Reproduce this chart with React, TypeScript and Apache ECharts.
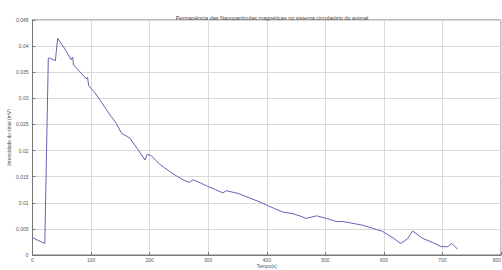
import React, { useEffect, useRef } from "react";
import * as echarts from "echarts";

const title = "Permanência das Nanopartículas magnéticas no sistema circulatório do animal";
const xName = "Tempo(s)";
const yName = "Intensidade do sinal (mV)";

const timeS = [
  0, 21, 27, 30, 39, 43, 55, 66, 68.5, 70, 80, 92, 94, 96, 105, 115, 130, 143, 152, 166,
  180, 192, 196, 203, 215, 223, 234, 245, 257, 268, 274, 287, 300, 313, 325, 331, 351, 371,
  385, 399, 413, 428, 445, 456, 467, 485, 502, 519, 530, 545, 564, 581, 598, 614, 629, 641,
  649, 666, 683, 698, 709, 716, 726,
];
const signal = [
  0.0033, 0.0022, 0.0377, 0.0377, 0.0372, 0.0415, 0.0395, 0.0374, 0.0379, 0.0364, 0.0352,
  0.0337, 0.034, 0.0324, 0.0313, 0.0297, 0.0272, 0.0252, 0.0233, 0.0224, 0.0202, 0.0182,
  0.0193, 0.019, 0.0176, 0.0169, 0.016, 0.0152, 0.0144, 0.0139, 0.0144, 0.0138, 0.0131,
  0.0125, 0.0119, 0.0123, 0.0118, 0.0109, 0.0103, 0.0096, 0.0089, 0.0082, 0.0079, 0.0075,
  0.007, 0.0075, 0.007, 0.0064, 0.0064, 0.0061, 0.0057, 0.0051, 0.0045, 0.0034, 0.0022,
  0.0032, 0.0046, 0.0032, 0.0024, 0.0016, 0.0016, 0.0022, 0.0011,
];

export default function App() {
  const ref = useRef<HTMLDivElement>(null);
  useEffect(() => {
    if (!ref.current) return;
    const chart = echarts.init(ref.current, undefined, { renderer: "svg" });
    const axisLine = { show: true, lineStyle: { color: "#777", width: 1 } };
    const splitLine = { show: true, lineStyle: { color: "#dadada", width: 1 } };
    const label = { color: "#555", fontSize: 5, fontFamily: "Arial, Liberation Sans, sans-serif" };
    chart.setOption({
      animation: false,
      backgroundColor: "#fff",
      title: {
        text: title,
        left: 267,
        textAlign: "center",
        top: 10,
        textStyle: { fontSize: 5.5, fontWeight: "normal", color: "#444", fontFamily: "Arial, Liberation Sans, sans-serif" },
      },
      grid: {
        left: 32.5,
        right: 1,
        top: 20,
        bottom: 15,
        show: true,
        borderColor: "#777",
        borderWidth: 1,
        containLabel: false,
        outerBoundsMode: "none",
      },
      xAxis: {
        type: "value",
        min: 0,
        max: 800,
        interval: 100,
        name: xName,
        nameLocation: "middle",
        nameGap: 9,
        nameMoveOverlap: false,
        nameTextStyle: { ...label, fontSize: 4.8, lineHeight: 5 },
        axisLine,
        axisTick: { show: true, inside: true, length: 3, lineStyle: { color: "#777" } },
        axisLabel: { ...label, margin: 2.5, alignMaxLabel: "right" },
        splitLine,
      },
      yAxis: {
        type: "value",
        min: 0,
        max: 0.045,
        interval: 0.005,
        name: yName,
        nameLocation: "middle",
        nameGap: 21,
        nameMoveOverlap: false,
        nameTextStyle: { ...label },
        axisLine,
        axisTick: { show: true, inside: true, length: 3, lineStyle: { color: "#777" } },
        axisLabel: { ...label, margin: 4 },
        splitLine,
      },
      series: [
        {
          type: "line",
          data: timeS.map((t, i) => [t, signal[i]]),
          showSymbol: false,
          lineStyle: { color: "#6464b4", width: 1 },
        },
      ],
    });
    return () => chart.dispose();
  }, []);
  return <div ref={ref} style={{ position: "fixed", left: 0, top: 0, width: 502, height: 270 }} />;
}
